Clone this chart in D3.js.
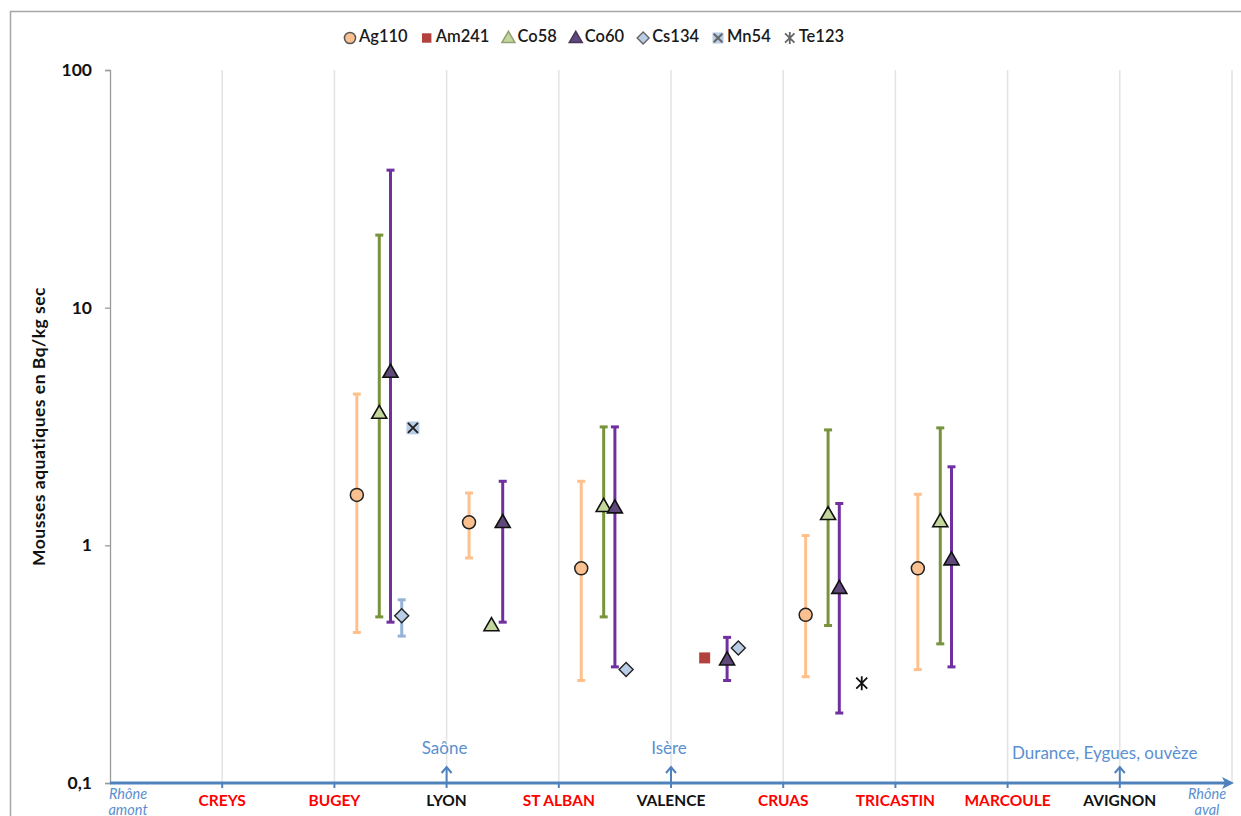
<!DOCTYPE html>
<html>
<head>
<meta charset="utf-8">
<script src="https://cdn.jsdelivr.net/npm/d3@7"></script>
<style>
  html, body { margin: 0; padding: 0; background: #fff; }
  svg { display: block; font-family: Lato, "Liberation Sans", sans-serif; }
</style>
</head>
<body>
<svg id="chart" width="1241" height="816"></svg>
<script>
// Sampling stations along the Rhône, upstream to downstream
const sites = ["Rhône amont", "CREYS", "BUGEY", "LYON", "ST ALBAN", "VALENCE",
               "CRUAS", "TRICASTIN", "MARCOULE", "AVIGNON", "Rhône aval"];
// Nuclear sites are printed in red
const nuclearSites = ["CREYS", "BUGEY", "ST ALBAN", "CRUAS", "TRICASTIN", "MARCOULE"];
// Tributaries joining the river
const tributaries = [
  { site: "LYON", name: "Saône" },
  { site: "VALENCE", name: "Isère" },
  { site: "AVIGNON", name: "Durance, Eygues, ouvèze" }
];
const yTicks = [0.1, 1, 10, 100];
const yTickLabels = ["0,1", "1", "10", "100"];

// Activities in aquatic mosses (Bq/kg dry): mean, min, max
const ag110 = [
  { site: "BUGEY",     v: 1.63, lo: 0.43,  hi: 4.33 },
  { site: "LYON",      v: 1.25, lo: 0.885, hi: 1.66 },
  { site: "ST ALBAN",  v: 0.80, lo: 0.27,  hi: 1.86 },
  { site: "CRUAS",     v: 0.51, lo: 0.28,  hi: 1.10 },
  { site: "TRICASTIN", v: 0.80, lo: 0.30,  hi: 1.64 }
];
const am241 = [
  { site: "VALENCE", v: 0.336 }
];
const co58 = [
  { site: "BUGEY",     v: 3.60, lo: 0.50,  hi: 20.2 },
  { site: "LYON",      v: 0.46 },
  { site: "ST ALBAN",  v: 1.46, lo: 0.50,  hi: 3.15 },
  { site: "CRUAS",     v: 1.35, lo: 0.46,  hi: 3.06 },
  { site: "TRICASTIN", v: 1.26, lo: 0.385, hi: 3.12 }
];
const co60 = [
  { site: "BUGEY",     v: 5.36, lo: 0.475, hi: 37.9 },
  { site: "LYON",      v: 1.25, lo: 0.475, hi: 1.86 },
  { site: "ST ALBAN",  v: 1.44, lo: 0.308, hi: 3.15 },
  { site: "VALENCE",   v: 0.33, lo: 0.27,  hi: 0.41 },
  { site: "CRUAS",     v: 0.66, lo: 0.197, hi: 1.50 },
  { site: "TRICASTIN", v: 0.87, lo: 0.308, hi: 2.14 }
];
const cs134 = [
  { site: "BUGEY",    v: 0.505, lo: 0.415, hi: 0.59 },
  { site: "ST ALBAN", v: 0.30 },
  { site: "VALENCE",  v: 0.37 }
];
const mn54 = [
  { site: "BUGEY", v: 3.12 }
];
const te123 = [
  { site: "CRUAS", v: 0.263 }
];

// Series: shift within a station slot, marker style, error bar colour
const series = [
  { name: "Ag110", data: ag110, shift: 0.2, shape: "circle",   fill: "#FAC090", stroke: "#222", bar: "#FFC08C" },
  { name: "Am241", data: am241, shift: 0.3, shape: "square",   fill: "#B3413E", stroke: "none", bar: "#B3413E" },
  { name: "Co58",  data: co58,  shift: 0.4, shape: "triangle", fill: "#C3D69B", stroke: "#111", bar: "#77933C" },
  { name: "Co60",  data: co60,  shift: 0.5, shape: "triangle", fill: "#5F497A", stroke: "#111", bar: "#7030A0" },
  { name: "Cs134", data: cs134, shift: 0.6, shape: "diamond",  fill: "#B9CDE5", stroke: "#222", bar: "#95B3D7" },
  { name: "Mn54",  data: mn54,  shift: 0.7, shape: "xbox",     fill: "#B9CDE5", stroke: "#222", bar: "#95B3D7" },
  { name: "Te123", data: te123, shift: 0.7, shape: "star",     fill: "none",    stroke: "#111", bar: "#111" }
];

const svg = d3.select("#chart");
const W = 1241, H = 816;
const plot = { left: 110, right: 1232, top: 70, bottom: 783 };

const x = d3.scaleLinear().domain([0, sites.length - 1]).range([plot.left, plot.right]);
const y = d3.scaleLog().domain([0.1, 100]).range([plot.bottom, plot.top]);
const siteX = s => x(sites.indexOf(s));

// Outer chart frame
svg.append("rect")
  .attr("x", 10.5).attr("y", 11.5).attr("width", W + 20).attr("height", H + 20)
  .attr("fill", "#fff").attr("stroke", "#A6A6A6").attr("stroke-width", 1.5);

// Vertical gridlines at each station
svg.append("g").selectAll("line")
  .data(sites.slice(1))
  .join("line")
  .attr("x1", d => siteX(d)).attr("x2", d => siteX(d))
  .attr("y1", plot.top).attr("y2", plot.bottom)
  .attr("stroke", "#E3E3E3").attr("stroke-width", 1.5);

// Y axis (log)
const yAxis = d3.axisLeft(y)
  .tickValues(yTicks)
  .tickFormat((d, i) => yTickLabels[i])
  .tickSize(5)
  .tickPadding(13);
const yg = svg.append("g").attr("transform", `translate(${plot.left},0)`).call(yAxis);
yg.select(".domain").attr("stroke", "#9A9A9A").attr("stroke-width", 1.3);
yg.selectAll(".tick line").attr("stroke", "#9A9A9A").attr("stroke-width", 1.3);
yg.selectAll(".tick text")
  .attr("font-family", "Lato, sans-serif")
  .attr("font-size", 17.5).attr("font-weight", "bold").attr("fill", "#111");

// Y axis title
svg.append("text")
  .attr("transform", `translate(41,${(plot.top + plot.bottom) / 2}) rotate(-90)`)
  .attr("text-anchor", "middle").attr("dominant-baseline", "middle")
  .attr("font-size", 17.5).attr("font-weight", "bold").attr("fill", "#111")
  .attr("letter-spacing", 0.5)
  .text("Mousses aquatiques en Bq/kg sec");

// River axis: blue line with arrow pointing downstream
const blue = "#4F81BD";
const axisG = svg.append("g");
axisG.append("line")
  .attr("x1", plot.left).attr("x2", plot.right - 6)
  .attr("y1", plot.bottom).attr("y2", plot.bottom)
  .attr("stroke", blue).attr("stroke-width", 3);
axisG.append("path")
  .attr("d", `M${plot.right + 2},${plot.bottom} L${plot.right - 10},${plot.bottom - 6} L${plot.right - 7},${plot.bottom} L${plot.right - 10},${plot.bottom + 6} Z`)
  .attr("fill", blue);
axisG.selectAll("line.tk")
  .data(sites.slice(1, -1))
  .join("line").attr("class", "tk")
  .attr("x1", d => siteX(d)).attr("x2", d => siteX(d))
  .attr("y1", plot.bottom).attr("y2", plot.bottom + 5)
  .attr("stroke", blue).attr("stroke-width", 2);

// Station labels
svg.append("g").selectAll("text")
  .data(sites.slice(1, -1))
  .join("text")
  .attr("x", d => siteX(d)).attr("y", 802)
  .attr("text-anchor", "middle").attr("dominant-baseline", "middle")
  .attr("font-size", 15.5).attr("font-weight", "bold")
  .attr("fill", d => nuclearSites.includes(d) ? "#FF0000" : "#111")
  .text(d => d);

// Upstream / downstream end labels (second line runs off the bottom edge)
[[sites[0], 128], [sites[sites.length - 1], 1207]].forEach(([label, cx]) => {
  const parts = label.split(" ");
  svg.append("text")
    .attr("x", cx).attr("y", 795)
    .attr("text-anchor", "middle").attr("dominant-baseline", "middle")
    .attr("font-size", 14.5).attr("font-style", "italic").attr("fill", "#5B8FD1")
    .selectAll("tspan").data(parts).join("tspan")
    .attr("x", cx).attr("dy", (d, i) => i === 0 ? 0 : 16)
    .text(d => d);
});

// Tributary inflows
const tribG = svg.append("g").selectAll("g").data(tributaries).join("g");
tribG.append("line")
  .attr("x1", d => siteX(d.site)).attr("x2", d => siteX(d.site))
  .attr("y1", plot.bottom).attr("y2", 767)
  .attr("stroke", blue).attr("stroke-width", 2);
tribG.append("path")
  .attr("d", d => { const cx = siteX(d.site); return `M${cx - 5},${773} L${cx},${767} L${cx + 5},${773}`; })
  .attr("fill", "none").attr("stroke", blue).attr("stroke-width", 2);
tribG.append("text")
  .attr("x", d => d.site === "AVIGNON" ? siteX(d.site) - 15 : siteX(d.site) - 2)
  .attr("y", d => d.site === "AVIGNON" ? 755 : 750)
  .attr("text-anchor", "middle").attr("dominant-baseline", "middle")
  .attr("font-size", 17).attr("fill", "#5B8FD1")
  .text(d => d.name);

// Marker drawing
function drawMarker(g, shape, s, fill, stroke) {
  const k = s / 14;
  if (shape === "circle") {
    g.append("circle").attr("r", 6.5 * k).attr("fill", fill).attr("stroke", stroke).attr("stroke-width", 1.5);
  } else if (shape === "square") {
    g.append("rect").attr("x", -5.5 * k).attr("y", -5.5 * k).attr("width", 11 * k).attr("height", 11 * k).attr("fill", fill);
  } else if (shape === "triangle") {
    const h = 13 * k, w = 15 * k;
    g.append("path").attr("d", `M0,${-h * 0.6} L${w / 2},${h * 0.4} L${-w / 2},${h * 0.4} Z`)
      .attr("fill", fill).attr("stroke", stroke).attr("stroke-width", 1.6).attr("stroke-linejoin", "miter");
  } else if (shape === "diamond") {
    const r = 7 * k;
    g.append("path").attr("d", `M0,${-r} L${r},0 L0,${r} L${-r},0 Z`)
      .attr("fill", fill).attr("stroke", stroke).attr("stroke-width", 1.4);
  } else if (shape === "xbox") {
    const r = 6.5 * k, a = 5 * k;
    g.append("rect").attr("x", -r).attr("y", -r).attr("width", 2 * r).attr("height", 2 * r).attr("fill", fill);
    g.append("path").attr("d", `M${-a},${-a} L${a},${a} M${a},${-a} L${-a},${a}`)
      .attr("stroke", stroke).attr("stroke-width", 2);
  } else if (shape === "star") {
    const a = 5.5 * k, v = 7 * k;
    g.append("path").attr("d", `M${-a},${-a} L${a},${a} M${a},${-a} L${-a},${a} M0,${-v} L0,${v}`)
      .attr("stroke", stroke).attr("stroke-width", 1.8);
  }
}

// Series: error bars first, then markers
series.forEach(sr => {
  const g = svg.append("g").attr("class", "series");
  const withBars = sr.data.filter(d => d.lo !== undefined);
  const bars = g.selectAll("g.bar").data(withBars).join("g").attr("class", "bar");
  const px = d => siteX(d.site) + x(sr.shift) - x(0);
  bars.append("line")
    .attr("x1", px).attr("x2", px)
    .attr("y1", d => y(d.lo)).attr("y2", d => y(d.hi))
    .attr("stroke", sr.bar).attr("stroke-width", 3);
  ["lo", "hi"].forEach(key => {
    bars.append("line")
      .attr("x1", d => px(d) - 4).attr("x2", d => px(d) + 4)
      .attr("y1", d => y(d[key])).attr("y2", d => y(d[key]))
      .attr("stroke", sr.bar).attr("stroke-width", 3);
  });
  sr.data.forEach(d => {
    const m = g.append("g").attr("transform", `translate(${px(d)},${y(d.v)})`);
    drawMarker(m, sr.shape, 14, sr.fill, sr.stroke);
  });
});

// Legend
const legend = svg.append("g").attr("transform", "translate(0,38)");
let cursor = 350;
series.forEach(sr => {
  const item = legend.append("g").attr("transform", `translate(${cursor},0)`);
  const legStroke = sr.shape === "square" ? "none"
    : sr.shape === "triangle" ? d3.color(sr.fill).darker(0.8)
    : sr.shape === "circle" ? "#555" : "#666";
  drawMarker(item.append("g"), sr.shape, 12, sr.fill, legStroke);
  const t = item.append("text")
    .attr("x", 9).attr("y", 0).attr("dominant-baseline", "middle")
    .attr("font-size", 16.5).attr("font-weight", 600).attr("fill", "#1a1a1a")
    .text(sr.name);
  cursor += 9 + t.node().getComputedTextLength() + 19;
});
</script>
</body>
</html>
